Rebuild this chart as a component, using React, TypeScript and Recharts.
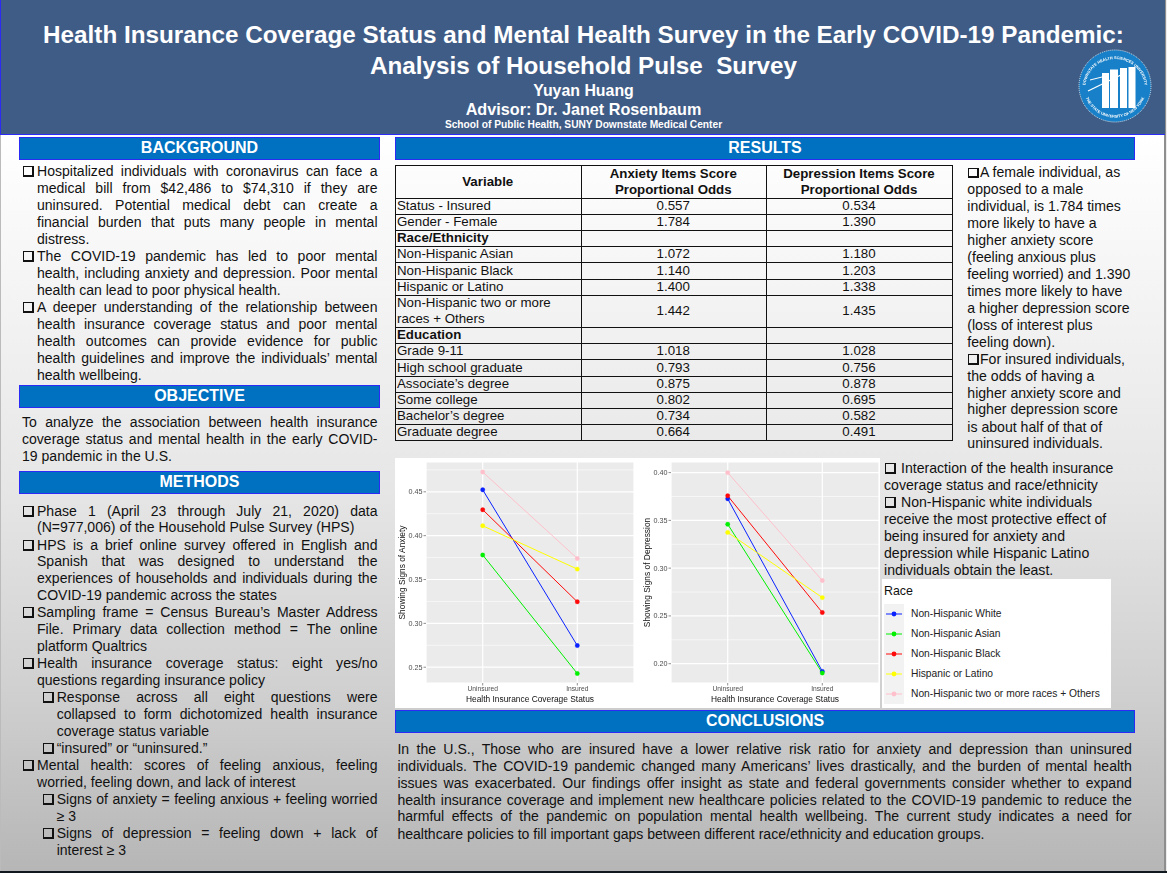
import React from 'react';
import { LineChart, Line, XAxis, YAxis, CartesianGrid } from 'recharts';

const statusLabels = ['Uninsured', 'Insured'];
const raceNames = ['Non-Hispanic White', 'Non-Hispanic Asian', 'Non-Hispanic Black', 'Hispanic or Latino', 'Non-Hispanic two or more races + Others'];
const raceKeys = ['white', 'asian', 'black', 'hispanic', 'others'];
const raceColors = ['#0a22ff', '#00f000', '#ff0a0a', '#ffff00', '#ffc0cb'];
const anxietyWhite = [0.4523, 0.2747];
const anxietyAsian = [0.378, 0.2428];
const anxietyBlack = [0.4296, 0.3246];
const anxietyHispanic = [0.4113, 0.3619];
const anxietyOthers = [0.4726, 0.374];
const depressionWhite = [0.3726, 0.192];
const depressionAsian = [0.346, 0.1903];
const depressionBlack = [0.3757, 0.2536];
const depressionHispanic = [0.3374, 0.2692];
const depressionOthers = [0.4, 0.287];
const anxietyTicks = [0.25, 0.3, 0.35, 0.4, 0.45];
const anxietyMinor = [0.275, 0.325, 0.375, 0.425, 0.475];
const depressionTicks = [0.2, 0.25, 0.3, 0.35, 0.4];
const depressionMinor = [0.225, 0.275, 0.325, 0.375];

const toRows = (a: number[][]) => statusLabels.map((status, i) => {
  const row: any = { status };
  raceKeys.forEach((k, j) => { row[k] = a[j][i]; });
  return row;
});
const anxietyRows = toRows([anxietyWhite, anxietyAsian, anxietyBlack, anxietyHispanic, anxietyOthers]);
const depressionRows = toRows([depressionWhite, depressionAsian, depressionBlack, depressionHispanic, depressionOthers]);

const tableVariables = ['Status - Insured', 'Gender - Female', 'Race/Ethnicity', 'Non-Hispanic Asian', 'Non-Hispanic Black', 'Hispanic or Latino', 'Non-Hispanic two or more\nraces + Others', 'Education', 'Grade 9-11', 'High school graduate', 'Associate’s degree', 'Some college', 'Bachelor’s degree', 'Graduate degree'];
const tableAnxiety = ['0.557', '1.784', '', '1.072', '1.140', '1.400', '1.442', '', '1.018', '0.793', '0.875', '0.802', '0.734', '0.664'];
const tableDepression = ['0.534', '1.390', '', '1.180', '1.203', '1.338', '1.435', '', '1.028', '0.756', '0.878', '0.695', '0.582', '0.491'];
const tableRowEdges = [198, 214.3, 230.3, 246.3, 262.3, 279.3, 295.3, 327.3, 343.3, 359.3, 376.3, 392.3, 408.3, 424.3, 440.3];

type TL = [number, string, number?];
const backgroundLines: TL[] = [
  [171, 'Hospitalized individuals with coronavirus can face a', 1],
  [188.3, 'medical bill from $42,486 to $74,310 if they are', 0],
  [205, 'uninsured. Potential medical debt can create a', 0],
  [222.3, 'financial burden that puts many people in mental', 0],
  [239.3, 'distress.', 2],
  [256.3, 'The COVID-19 pandemic has led to poor mental', 1],
  [273.3, 'health, including anxiety and depression. Poor mental', 0],
  [290.3, 'health can lead to poor physical health.', 2],
  [307.3, 'A deeper understanding of the relationship between', 1],
  [324.3, 'health insurance coverage status and poor mental', 0],
  [341.3, 'health outcomes can provide evidence for public', 0],
  [358.3, 'health guidelines and improve the individuals’ mental', 0],
  [375.3, 'health wellbeing.', 2],
];
const objectiveLines: TL[] = [
  [422.3, 'To analyze the association between health insurance', 0],
  [439.3, 'coverage status and mental health in the early COVID-', 0],
  [456.3, '19 pandemic in the U.S.', 2],
];
// third value: 1 = bullet + justified, 0 = justified, 2 = ragged, 3 = bullet + ragged; fourth: indent level
const methodLines: [number, string, number, number][] = [
  [511, 'Phase 1 (April 23 through July 21, 2020) data', 1, 0],
  [527.3, '(N=977,006) of the Household Pulse Survey (HPS)', 2, 0],
  [545, 'HPS is a brief online survey offered in English and', 1, 0],
  [561.3, 'Spanish that was designed to understand the', 0, 0],
  [578.3, 'experiences of households and individuals during the', 0, 0],
  [595.3, 'COVID-19 pandemic across the states', 2, 0],
  [612.3, 'Sampling frame = Census Bureau’s Master Address', 1, 0],
  [629.3, 'File. Primary data collection method = The online', 0, 0],
  [646.3, 'platform Qualtrics', 2, 0],
  [663.3, 'Health insurance coverage status: eight yes/no', 1, 0],
  [680.3, 'questions regarding insurance policy', 2, 0],
  [697.3, 'Response across all eight questions were', 1, 1],
  [714.3, 'collapsed to form dichotomized health insurance', 0, 1],
  [731.3, 'coverage status variable', 2, 1],
  [748.3, '“insured” or “uninsured.”', 3, 1],
  [765.3, 'Mental health: scores of feeling anxious, feeling', 1, 0],
  [782.3, 'worried, feeling down, and lack of interest', 2, 0],
  [799.3, 'Signs of anxiety = feeling anxious + feeling worried', 1, 1],
  [816.3, '≥ 3', 2, 1],
  [833.3, 'Signs of depression = feeling down + lack of', 1, 1],
  [850.3, 'interest ≥ 3', 2, 1],
];
const conclusionLines: TL[] = [
  [749.3, 'In the U.S., Those who are insured have a lower relative risk ratio for anxiety and depression than uninsured', 0],
  [766.3, 'individuals. The COVID-19 pandemic changed many Americans’ lives drastically, and the burden of mental health', 0],
  [783, 'issues was exacerbated. Our findings offer insight as state and federal governments consider whether to expand', 0],
  [800, 'health insurance coverage and implement new healthcare policies related to the COVID-19 pandemic to reduce the', 0],
  [816.7, 'harmful effects of the pandemic on population mental health wellbeing. The current study indicates a need for', 0],
  [834.3, 'healthcare policies to fill important gaps between different race/ethnicity and education groups.', 2],
];
const resultLines: [number, string, number][] = [
  [172.7, 'A female individual, as', 1], [189.3, 'opposed to a male', 0], [206.3, 'individual, is 1.784 times', 0],
  [223.3, 'more likely to have a', 0], [240.3, 'higher anxiety score', 0], [257.3, '(feeling anxious plus', 0],
  [274.3, 'feeling worried) and 1.390', 0], [291.3, 'times more likely to have', 0], [308.3, 'a higher depression score', 0],
  [325.3, '(loss of interest plus', 0], [342.3, 'feeling down).', 0], [359.3, 'For insured individuals,', 1],
  [376.3, 'the odds of having a', 0], [393.3, 'higher anxiety score and', 0], [409.7, 'higher depression score', 0],
  [427.3, 'is about half of that of', 0], [443.7, 'uninsured individuals.', 0],
];
const interactionLines: [number, string, number][] = [
  [468.3, 'Interaction of the health insurance', 1], [485.3, 'coverage status and race/ethnicity', 0],
  [502.3, 'Non-Hispanic white individuals', 1], [519.3, 'receive the most protective effect of', 0],
  [536.3, 'being insured for anxiety and', 0], [553.3, 'depression while Hispanic Latino', 0],
  [570.3, 'individuals obtain the least.', 0],
];

const FONT = '"Liberation Sans", Arial, sans-serif';
const TEXT = '#111';

const Bullet = ({ x, y }: { x: number; y: number }) => (
  <div style={{ position: 'absolute', left: x, top: y - 5, width: 7.5, height: 7.5, boxSizing: 'content-box', borderStyle: 'solid', borderColor: '#111', borderWidth: '1.3px 2.2px 2.2px 1.3px', background: 'transparent' }} />
);

const TextLine = ({ x, y, w, text, just, size = 14.05 }: { x: number; y: number; w: number; text: string; just: boolean; size?: number }) => (
  <div style={{
    position: 'absolute', left: x, top: y - 8.5, width: w, height: 17, lineHeight: '17px', fontSize: size, color: TEXT,
    textAlign: just ? 'justify' : 'left', textAlignLast: just ? 'justify' : 'left',
    whiteSpace: just ? 'normal' : 'nowrap', overflow: 'visible',
  }}>{text}</div>
);

const Section = ({ x, y, w, title }: { x: number; y: number; w: number; title: string }) => (
  <div style={{
    position: 'absolute', left: x, top: y, width: w, height: 23, boxSizing: 'border-box', background: '#0070c0',
    border: '1px solid #2b2bf5', color: '#fff', fontWeight: 700, fontSize: 16, lineHeight: '20px', textAlign: 'center',
  }}>{title}</div>
);

const HeaderLine = ({ y, size, text }: { y: number; size: number; text: string }) => (
  <div style={{ position: 'absolute', left: 0, width: 1167, top: y - 20, height: 40, lineHeight: '40px', textAlign: 'center', fontWeight: 700, fontSize: size, color: '#fff', whiteSpace: 'pre' }}>{text}</div>
);

const Logo = () => {
  const cols = [[-13, -13, 7, 35], [-5, -16.5, 8, 38.5], [5, -18, 7, 40], [13.5, -19, 7, 41]];
  return (
    <svg style={{ position: 'absolute', left: 1076, top: 46.5, filter: 'blur(0.3px)' }} width={78} height={78} viewBox="-39 -39 78 78">
      <circle r={36} fill="#1880c8" stroke="#cfe6f5" strokeDasharray="1 1" strokeWidth={1} />
      <defs>
        <path id="logoTop" d="M -30 3 A 30 30 0 1 1 30 3" />
        <path id="logoBottom" d="M -30.5 8 A 31.5 31.5 0 0 0 30.5 8" />
      </defs>
      <text fontSize={3.9} fontWeight={700} fill="#fff" textAnchor="middle"><textPath href="#logoTop" startOffset="50%">DOWNSTATE HEALTH SCIENCES UNIVERSITY</textPath></text>
      <text fontSize={3.9} fontWeight={700} fill="#fff" textAnchor="middle"><textPath href="#logoBottom" startOffset="50%">THE STATE UNIVERSITY OF NEW YORK</textPath></text>
      {cols.map((c, i) => <rect key={i} x={c[0]} y={c[1]} width={c[2]} height={c[3]} fill="#fff" />)}
      <path d="M -27 5 L 10 -13" stroke="#fff" strokeWidth={1.3} fill="none" />
      <path d="M -25 -6 L -13 -9" stroke="#fff" strokeWidth={1} fill="none" />
    </svg>
  );
};

const RaceChart = ({ left, rows, domain, ticks, minor, title }: any) => (
  <div style={{ position: 'absolute', left, top: 458, width: 240, height: 250, filter: 'blur(0.35px)' }}>
    <LineChart width={240} height={250} data={rows} margin={{ top: 4, right: 1, bottom: 0, left: 0 }}>
      <CartesianGrid fill="#ebebeb" stroke="#ffffff" strokeWidth={0.6} vertical={false} horizontalValues={minor} />
      <CartesianGrid fill="none" stroke="#ffffff" strokeWidth={1.2} />
      <XAxis dataKey="status" height={25} axisLine={false} interval={0} padding={{ left: 56.7, right: 56.7 }} tickSize={2.5} tickMargin={1}
        tickLine={{ stroke: '#444', strokeWidth: 0.6 }} tick={{ fontSize: 6.7, fill: '#4d4d4d' }}
        label={{ value: 'Health Insurance Coverage Status', position: 'center', dy: 3.5, style: { fontSize: 8.4, fill: '#111' } }} />
      <YAxis type="number" width={31} domain={domain} ticks={ticks} allowDataOverflow axisLine={false} tickSize={2.5} tickMargin={1}
        tickFormatter={(v: number) => v.toFixed(2)} tickLine={{ stroke: '#444', strokeWidth: 0.6 }} tick={{ fontSize: 7.2, fill: '#4d4d4d' }}
        label={{ value: title, angle: -90, position: 'center', dx: -8.5, style: { fontSize: 8.4, fill: '#111', textAnchor: 'middle' } }} />
      {raceKeys.map((k, i) => (
        <Line key={k} dataKey={k} name={raceNames[i]} type="linear" stroke={raceColors[i]} strokeWidth={1} isAnimationActive={false}
          dot={{ r: 2.2, fill: raceColors[i], stroke: raceColors[i], strokeWidth: 0.3 }} />
      ))}
    </LineChart>
  </div>
);

const Legend = () => (
  <div style={{ position: 'absolute', left: 882, top: 579, width: 229, height: 129, background: '#fff' }}>
    <div style={{ position: 'absolute', left: 2, top: 5, fontSize: 12.4, lineHeight: '15px', color: '#111' }}>Race</div>
    {raceNames.map((n, i) => (
      <React.Fragment key={n}>
        <svg style={{ position: 'absolute', left: 2, top: 25 + i * 20.1 }} width={20} height={20.1}>
          <rect width={20} height={20.1} fill="#f2f2f2" />
          <line x1={2} x2={18} y1={10} y2={10} stroke={raceColors[i]} strokeWidth={1} />
          <circle cx={10} cy={10} r={2.4} fill={raceColors[i]} />
        </svg>
        <div style={{ position: 'absolute', left: 29, top: 25 + i * 20.1, height: 20, lineHeight: '20px', fontSize: 10.25, color: '#222', whiteSpace: 'nowrap' }}>{n}</div>
      </React.Fragment>
    ))}
  </div>
);

const TableView = () => {
  const xs = [395, 580.5, 766, 952];
  const tableTop = 165.3;
  const cellStyle = (x: number, w: number, y0: number, y1: number, center: boolean, bold: boolean): React.CSSProperties => ({
    position: 'absolute', left: x, top: y0, width: w, height: y1 - y0, display: 'flex', alignItems: 'center',
    justifyContent: center ? 'center' : 'flex-start', textAlign: center ? 'center' : 'left', fontSize: 13.3, lineHeight: '16px', fontWeight: bold ? 700 : 400, color: TEXT, whiteSpace: 'pre',
  });
  const edges = [tableTop, ...tableRowEdges];
  return (
    <>
      {edges.map((y) => <div key={y} style={{ position: 'absolute', left: xs[0], top: y - 0.5, width: xs[3] - xs[0] + 1, height: 1, background: '#111' }} />)}
      {xs.map((x) => <div key={x} style={{ position: 'absolute', left: x, top: tableTop, width: 1, height: tableRowEdges[14] - tableTop, background: '#111' }} />)}
      <div style={cellStyle(xs[0], xs[1] - xs[0], tableTop, 198, true, true)}>Variable</div>
      <div style={cellStyle(xs[1], xs[2] - xs[1], tableTop, 198, true, true)}>{'Anxiety Items Score\nProportional Odds'}</div>
      <div style={cellStyle(xs[2], xs[3] - xs[2], tableTop, 198, true, true)}>{'Depression Items Score\nProportional Odds'}</div>
      {tableVariables.map((v, i) => {
        const y0 = tableRowEdges[i], y1 = tableRowEdges[i + 1];
        const bold = v === 'Race/Ethnicity' || v === 'Education';
        return (
          <React.Fragment key={v}>
            <div style={{ ...cellStyle(xs[0] + 2, xs[1] - xs[0] - 2, y0, y1, false, bold) }}>{v}</div>
            <div style={cellStyle(xs[1], xs[2] - xs[1], y0, y1, true, false)}>{tableAnxiety[i]}</div>
            <div style={cellStyle(xs[2], xs[3] - xs[2], y0, y1, true, false)}>{tableDepression[i]}</div>
          </React.Fragment>
        );
      })}
    </>
  );
};

export default function App() {
  return (
    <div style={{ position: 'fixed', left: 0, top: 0, width: 1167, height: 873, overflow: 'hidden', fontFamily: FONT, background: 'linear-gradient(180deg,#ffffff 0px,#ffffff 135px,#e6e6e6 490px,#d0d0d0 690px,#b6b6b6 871px)' }}>
      {/* poster frame */}
      <div style={{ position: 'absolute', left: 0, top: 871, width: 1167, height: 2, background: '#101820' }} />
      <div style={{ position: 'absolute', left: 1164, top: 0, width: 1.5, height: 871, background: '#8e8e8e' }} />
      <div style={{ position: 'absolute', left: 1165.5, top: 0, width: 2, height: 871, background: '#ececec' }} />
      <div style={{ position: 'absolute', left: 0, top: 135, width: 1, height: 736, background: '#bbbbbb' }} />

      {/* header */}
      <div style={{ position: 'absolute', left: 0, top: 0, width: 1165, height: 135, boxSizing: 'border-box', background: '#3f5c86', borderBottom: '1.5px solid #2b2bf5', borderLeft: '1px solid #2b2bf5' }} />
      <HeaderLine y={35} size={24.25} text="Health Insurance Coverage Status and Mental Health Survey in the Early COVID-19 Pandemic:" />
      <HeaderLine y={65.7} size={24.25} text="Analysis of Household Pulse  Survey" />
      <HeaderLine y={90.7} size={15.9} text="Yuyan Huang" />
      <HeaderLine y={109} size={16.2} text="Advisor: Dr. Janet Rosenbaum" />
      <HeaderLine y={125.3} size={10.2} text="School of Public Health, SUNY Downstate Medical Center" />
      <Logo />

      <Section x={19} y={137} w={361} title="BACKGROUND" />
      <Section x={19} y={385} w={361} title="OBJECTIVE" />
      <Section x={19} y={471} w={361} title="METHODS" />
      <Section x={395} y={137} w={740} title="RESULTS" />
      <Section x={395} y={710} w={740} title="CONCLUSIONS" />

      {backgroundLines.map(([y, t, k]) => (
        <React.Fragment key={t}>
          {k === 1 && <Bullet x={23} y={y} />}
          <TextLine x={37} y={y} w={340.5} text={t} just={k !== 2} />
        </React.Fragment>
      ))}
      {objectiveLines.map(([y, t, k]) => <TextLine key={t} x={22} y={y} w={355.5} text={t} just={k !== 2} />)}
      {methodLines.map(([y, t, k, lvl]) => {
        const tx = lvl ? 56.7 : 37;
        return (
          <React.Fragment key={t}>
            {(k === 1 || k === 3) && <Bullet x={lvl ? 43 : 23} y={y} />}
            <TextLine x={tx} y={y} w={377.5 - tx} text={t} just={k < 2} />
          </React.Fragment>
        );
      })}
      {conclusionLines.map(([y, t, k]) => <TextLine key={t} x={397.4} y={y} w={734.4} text={t} just={k !== 2} />)}
      {resultLines.map(([y, t, k]) => (
        <React.Fragment key={t}>
          {k === 1 && <Bullet x={968} y={y} />}
          <TextLine x={k === 1 ? 980 : 967.3} y={y} w={190} text={t} just={false} size={14.1} />
        </React.Fragment>
      ))}
      {interactionLines.map(([y, t, k]) => (
        <React.Fragment key={t}>
          {k === 1 && <Bullet x={885} y={y} />}
          <TextLine x={k === 1 ? 901 : 884} y={y} w={240} text={t} just={false} size={14.1} />
        </React.Fragment>
      ))}

      <TableView />

      <div style={{ position: 'absolute', left: 395, top: 458, width: 485, height: 250, background: '#fff' }} />
      <RaceChart left={395} rows={anxietyRows} domain={[0.232, 0.484]} ticks={anxietyTicks} minor={anxietyMinor} title="Showing Signs of Anxiety" />
      <RaceChart left={640} rows={depressionRows} domain={[0.1798, 0.4111]} ticks={depressionTicks} minor={depressionMinor} title="Showing Signs of Depression" />
      <Legend />
    </div>
  );
}
